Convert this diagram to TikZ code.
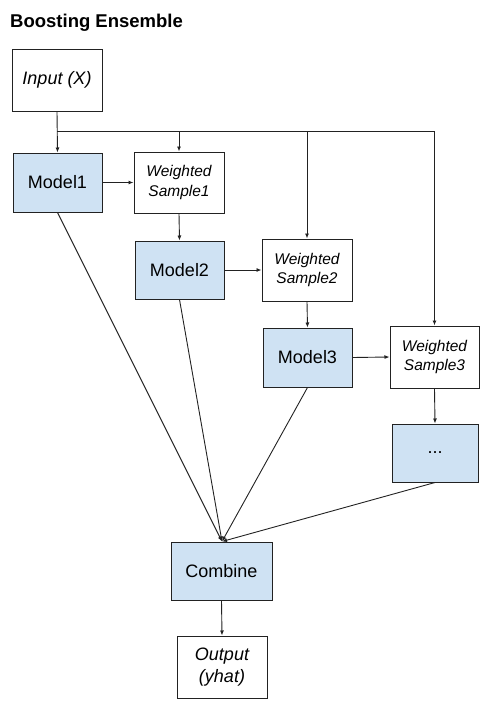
\documentclass[tikz,border=0pt]{standalone}
\usepackage{fontspec}
\setmainfont{Liberation Sans}
\usetikzlibrary{arrows.meta}
\definecolor{boxblue}{HTML}{CFE2F3}
\definecolor{lineblk}{HTML}{222222}
\begin{document}
\begin{tikzpicture}[x=1pt,y=-1pt,
  box/.style={draw=lineblk,line width=1pt,inner sep=0pt,align=center,
    font=\fontsize{18}{21.6}\selectfont},
  modelbox/.style={box,fill=boxblue},
  wbox/.style={box,font=\fontsize{15.5}{19.5}\selectfont\itshape},
  iobox/.style={box,font=\fontsize{18}{21.6}\selectfont\itshape},
  conn/.style={draw=lineblk,line width=0.9pt},
  arr/.style={conn,-{Latex[length=5pt,width=4pt]}}
]
\useasboundingbox (0,0) rectangle (498,716);
\node[anchor=base west,inner sep=0pt,font=\fontsize{18.5}{22}\selectfont\bfseries] (title) at (10,27) {Boosting Ensemble};
\node[iobox,minimum width=90pt,minimum height=62pt] (in) at (57,80) {Input (X)};
\node[modelbox,minimum width=89pt,minimum height=59pt] (m1) at (57.5,182.5) {Model1};
\node[wbox,minimum width=90pt,minimum height=61pt] (w1) at (179,182.5) {Weighted\\Sample1};
\node[modelbox,minimum width=89pt,minimum height=58pt] (m2) at (179.5,270) {Model2};
\node[wbox,minimum width=90pt,minimum height=62pt] (w2) at (307,270) {Weighted\\Sample2};
\node[modelbox,minimum width=89pt,minimum height=59pt] (m3) at (307.5,357.5) {Model3};
\node[wbox,minimum width=89pt,minimum height=62pt] (w3) at (434.5,357) {Weighted\\Sample3};
\node[modelbox,minimum width=86pt,minimum height=58pt] (dots) at (435,453) {...};
\node[modelbox,minimum width=101pt,minimum height=58pt] (comb) at (221.5,571) {Combine};
\node[iobox,minimum width=90pt,minimum height=62pt] (out) at (222,667) {Output\\(yhat)};
% bus
\coordinate (b0) at (57,131);
\coordinate (b1) at (179,131);
\coordinate (b2) at (307,131);
\coordinate (b3) at (434.5,131);
\draw[arr] (in.south) -- (m1.north);
\draw[conn] (b0) -- (b3);
\draw[arr] (b1) -- (w1.north);
\draw[arr] (b2) -- (w2.north);
\draw[arr] (b3) -- (w3.north);
% chain
\draw[arr] (m1.east) -- (w1.west);
\draw[arr] (w1.south) -- (m2.north);
\draw[arr] (m2.east) -- (w2.west);
\draw[arr] (w2.south) -- (m3.north);
\draw[arr] (m3.east) -- (w3.west);
\draw[arr] (w3.south) -- (dots.north);
% to combine
\coordinate (cin) at (222,541.5);
\draw[arr] (m1.south) -- (cin);
\draw[arr] (m2.south) -- (cin);
\draw[arr] (m3.south) -- (cin);
\draw[arr] (dots.south) -- (cin);
\draw[arr] (comb.south) -- (out.north);
\end{tikzpicture}
\end{document}
